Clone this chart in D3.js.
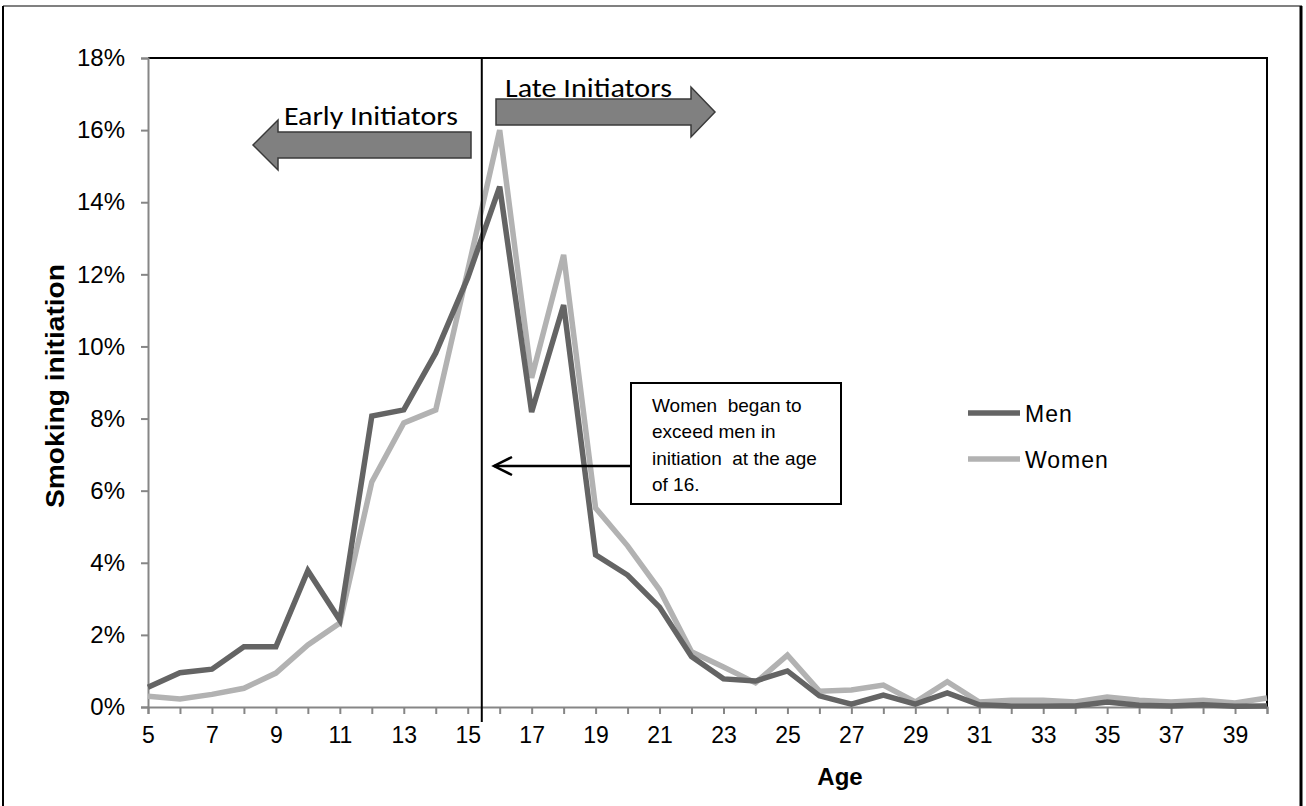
<!DOCTYPE html>
<html>
<head>
<meta charset="utf-8">
<script src="https://cdn.jsdelivr.net/npm/d3@7"></script>
<style>
  body { margin: 0; background: #fff; }
  svg { display: block; }
</style>
</head>
<body>
<div id="chart"></div>
<script>
// ages on the x axis
const ages = d3.range(5, 41);
// share of smokers starting at each age (%)
const men = [0.55, 0.95, 1.05, 1.67, 1.67, 3.78, 2.41,
             8.07, 8.24, 9.82, 11.9, 14.43, 8.18, 11.15,
             4.22, 3.66, 2.77, 1.4, 0.78, 0.72, 1.0,
             0.31, 0.08, 0.33, 0.08, 0.39, 0.06, 0.03,
             0.03, 0.03, 0.14, 0.05, 0.03, 0.06, 0.02, 0.03];
const women = [0.3, 0.22, 0.35, 0.52, 0.94, 1.72, 2.33,
               6.24, 7.88, 8.24, 12.1, 16.0, 9.13, 12.54,
               5.52, 4.47, 3.25, 1.53, 1.11, 0.67, 1.44,
               0.44, 0.47, 0.61, 0.14, 0.7, 0.14, 0.19,
               0.19, 0.14, 0.28, 0.19, 0.14, 0.19, 0.11, 0.25];
const yTicks = [0, 2, 4, 6, 8, 10, 12, 14, 16, 18];
const seriesNames = ["Men", "Women"];
const splitAge = 15.44;

(function() {
    const W = 1306, H = 806;
    const margin = { top: 58, right: 39, bottom: 99, left: 148 };

    const svg = d3.select("#chart").append("svg")
        .attr("width", W)
        .attr("height", H);

    // outer frame
    svg.append("line").attr("x1", 3).attr("x2", 1302).attr("y1", 6).attr("y2", 6)
        .attr("stroke", "#808080").attr("stroke-width", 2);
    svg.append("line").attr("x1", 3).attr("x2", 3).attr("y1", 6).attr("y2", H)
        .attr("stroke", "#000").attr("stroke-width", 2);
    svg.append("line").attr("x1", 1301).attr("x2", 1301).attr("y1", 6).attr("y2", H)
        .attr("stroke", "#000").attr("stroke-width", 3);

    const x = d3.scaleLinear().domain([5, 40]).range([margin.left, W - margin.right]);
    const y = d3.scaleLinear().domain([0, 18]).range([H - margin.bottom, margin.top]);

    // plot area border (top and right)
    svg.append("path")
        .attr("d", `M${x(5)},${y(18)}H${x(40)}V${y(0)}`)
        .attr("fill", "none")
        .attr("stroke", "#000")
        .attr("stroke-width", 2);

    // y axis
    const yAxis = svg.append("g")
        .attr("transform", `translate(${x(5)},0)`)
        .call(d3.axisLeft(y).tickValues(yTicks).tickFormat(d => d + "%").tickSize(7).tickPadding(16));
    yAxis.select(".domain").attr("stroke", "#868686").attr("stroke-width", 2);
    yAxis.selectAll(".tick line").attr("stroke", "#868686").attr("stroke-width", 2);
    yAxis.selectAll(".tick text")
        .attr("fill", "#000")
        .style("font-family", "'Liberation Sans', Arial, sans-serif")
        .style("font-size", "24px");

    // x axis
    const xAxis = svg.append("g")
        .attr("transform", `translate(0,${y(0)})`)
        .call(d3.axisBottom(x).tickValues(ages).tickFormat(d => d % 2 === 1 ? d : "").tickSize(7).tickPadding(13));
    xAxis.select(".domain").attr("stroke", "#868686").attr("stroke-width", 2);
    xAxis.selectAll(".tick line").attr("stroke", "#868686").attr("stroke-width", 2);
    xAxis.selectAll(".tick text")
        .attr("fill", "#000")
        .style("font-family", "'Liberation Sans', Arial, sans-serif")
        .style("font-size", "23px");

    // axis titles
    svg.append("text")
        .attr("x", 840).attr("y", 785)
        .attr("text-anchor", "middle")
        .style("font-family", "'Liberation Sans', Arial, sans-serif")
        .style("font-weight", "bold")
        .style("font-size", "24px")
        .text("Age");

    svg.append("text")
        .attr("transform", "translate(64,386) rotate(-90)")
        .attr("text-anchor", "middle")
        .style("font-family", "'Liberation Sans', Arial, sans-serif")
        .style("font-weight", "bold")
        .style("font-size", "26px")
        .attr("textLength", 244)
        .attr("lengthAdjust", "spacingAndGlyphs")
        .text("Smoking initiation");

    // data lines
    const colors = { Men: "#646464", Women: "#b2b2b2" };
    const line = d3.line().x((d, i) => x(ages[i])).y(d => y(d));
    [women, men].forEach(vals => {
        const name = vals === men ? "Men" : "Women";
        svg.append("path")
            .datum(vals)
            .attr("d", line)
            .attr("fill", "none")
            .attr("stroke", colors[name])
            .attr("stroke-width", 5.5)
            .attr("stroke-linejoin", "miter");
    });

    // vertical split line
    svg.append("line")
        .attr("x1", x(splitAge)).attr("x2", x(splitAge))
        .attr("y1", y(18)).attr("y2", y(0) + 15)
        .attr("stroke", "#000").attr("stroke-width", 2);

    // block arrows
    function blockArrow(xBody, xBase, xTip, cy, bodyH, headH) {
        return `M${xBody},${cy - bodyH / 2}H${xBase}V${cy - headH / 2}L${xTip},${cy}L${xBase},${cy + headH / 2}V${cy + bodyH / 2}H${xBody}Z`;
    }
    svg.append("path")
        .attr("d", blockArrow(471, 278, 253, 145, 26, 50))
        .attr("fill", "#808080").attr("stroke", "#3a3a3a").attr("stroke-width", 1.5);
    svg.append("path")
        .attr("d", blockArrow(496, 691, 715, 112, 26, 50))
        .attr("fill", "#808080").attr("stroke", "#3a3a3a").attr("stroke-width", 1.5);

    const calib = "Carlito, Calibri, 'Open Sans', sans-serif";
    svg.append("text")
        .attr("x", 284).attr("y", 125)
        .style("font-family", calib).style("font-size", "26px")
        .attr("textLength", 174)
        .attr("lengthAdjust", "spacingAndGlyphs")
        .text("Early Initiators");
    svg.append("text")
        .attr("x", 505).attr("y", 97)
        .style("font-family", calib).style("font-size", "26px")
        .attr("textLength", 167)
        .attr("lengthAdjust", "spacingAndGlyphs")
        .text("Late Initiators");

    // annotation box
    svg.append("rect")
        .attr("x", 631).attr("y", 383).attr("width", 210).attr("height", 121)
        .attr("fill", "#fff").attr("stroke", "#000").attr("stroke-width", 2);
    const noteLines = ["Women  began to", "exceed men in", "initiation  at the age", "of 16."];
    svg.append("g").selectAll("text")
        .data(noteLines)
        .enter().append("text")
        .attr("x", 652)
        .attr("y", (d, i) => 412 + i * 26.4)
        .style("white-space", "pre")
        .style("font-family", "'Liberation Sans', Arial, sans-serif")
        .style("font-size", "19px")
        .text(d => d);

    // annotation arrow
    svg.append("line")
        .attr("x1", 631).attr("x2", 494).attr("y1", 466).attr("y2", 466)
        .attr("stroke", "#000").attr("stroke-width", 2.5);
    svg.append("path")
        .attr("d", "M512,457L494,466L512,475")
        .attr("fill", "none").attr("stroke", "#000").attr("stroke-width", 2.5);

    // legend
    const legend = svg.append("g").selectAll("g")
        .data(seriesNames)
        .enter().append("g")
        .attr("transform", (d, i) => `translate(968,${413 + i * 46})`);
    legend.append("line")
        .attr("x1", 0).attr("x2", 52)
        .attr("stroke", d => colors[d]).attr("stroke-width", 5.5);
    legend.append("text")
        .attr("x", 57).attr("y", 9)
        .style("font-family", "'Liberation Sans', Arial, sans-serif")
        .style("font-size", "23px")
        .style("letter-spacing", "1px")
        .text(d => d);
})();
</script>
</body>
</html>
